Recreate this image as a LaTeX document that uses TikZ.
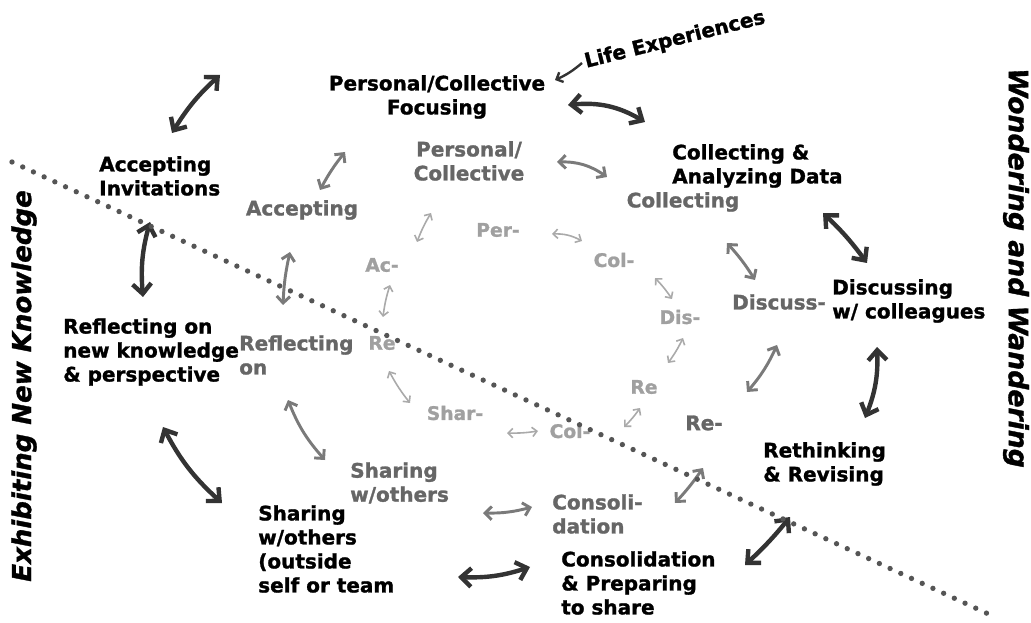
\documentclass[tikz,border=0pt]{standalone}
\usepackage{fontspec}
\setmainfont{DejaVu Sans}[BoldFeatures={FakeBold=1.3},BoldItalicFeatures={FakeBold=1.3}]
\usetikzlibrary{arrows.meta}
\definecolor{outerc}{HTML}{000000}
\definecolor{midc}{HTML}{666666}
\definecolor{innc}{HTML}{A0A0A0}
\definecolor{oarr}{HTML}{333333}
\definecolor{marr}{HTML}{7A7A7A}
\definecolor{iarr}{HTML}{AAAAAA}
\definecolor{dotc}{HTML}{555555}
\tikzset{
  lbl/.style={inner sep=0pt, font=\fontsize{15}{18}\selectfont\bfseries},
  outerlbl/.style={lbl, text=outerc},
  midlbl/.style={lbl, text=midc},
  innlbl/.style={lbl, text=innc, font=\fontsize{14}{17}\selectfont\bfseries},
  sidelbl/.style={inner sep=0pt, text=black, font=\fontsize{19.5}{22}\selectfont\bfseries\itshape},
  oarrow/.style={draw=oarr, line width=3.3pt, line cap=round,
    {Straight Barb[length=7.5pt,width=14pt]}-{Straight Barb[length=7.5pt,width=14pt]}},
  marrow/.style={draw=marr, line width=2.2pt, line cap=round,
    {Straight Barb[length=5pt,width=10pt]}-{Straight Barb[length=5pt,width=10pt]}},
  iarrow/.style={draw=iarr, line width=1.2pt, line cap=round,
    {Straight Barb[length=3.5pt,width=7pt]}-{Straight Barb[length=3.5pt,width=7pt]}},
  dotline/.style={draw=dotc, line width=4pt, line cap=round, dash pattern=on 0pt off 8.85pt}
}
\begin{document}
\begin{tikzpicture}[x=0.75pt,y=0.75pt]
\useasboundingbox (0,0) rectangle (1031,-623);

% ---- side labels
\node[sidelbl, rotate=90] (exh) at (24,-386) {Exhibiting New Knowledge};
\node[sidelbl, rotate=-90, font=\fontsize{20}{22}\selectfont\bfseries\itshape] (won) at (1016,-268) {Wondering and Wandering};

% ---- outer ring
\node[outerlbl, align=center] (focus) at (437,-97) {Personal/Collective\\Focusing};
\node[outerlbl, rotate=14] (life) at (675,-40) {Life Experiences};
\node[outerlbl, align=left, anchor=west] (collan) at (672,-166) {Collecting \&\\Analyzing Data};
\node[outerlbl, align=left, anchor=west] (discw) at (832,-301) {Discussing\\w/ colleagues};
\node[outerlbl, align=left, anchor=west] (rethink) at (763,-464) {Rethinking\\\& Revising};
\node[outerlbl, align=left, anchor=west] (consprep) at (561,-583) {Consolidation\\\& Preparing\\to share};
\node[outerlbl, align=left, anchor=west] (shareout) at (258,-549) {Sharing\\w/others\\(outside\\self or team};
\node[outerlbl, align=left, anchor=west] (reflnew) at (63,-352) {Reflecting on\\new knowledge\\\& perspective};
\node[outerlbl, align=left, anchor=west] (accinv) at (99,-176) {Accepting\\Invitations};

% ---- middle ring
\node[midlbl, align=center] (perscoll) at (469,-161) {Personal/\\Collective};
\node[midlbl] (accepting) at (302,-210) {Accepting};
\node[midlbl] (collecting) at (683,-202) {Collecting};
\node[midlbl] (discuss) at (779,-302) {Discuss-};
\node[midlbl] (rem) at (704,-423) {Re-};
\node[midlbl, align=left, anchor=west] (consoli) at (552,-514) {Consoli-\\dation};
\node[midlbl, align=left, anchor=west] (sharing) at (350,-483) {Sharing\\w/others};
\node[midlbl, align=left, anchor=west] (reflon) at (239,-355) {Reflecting\\on};

% ---- inner ring
\node[innlbl] (per) at (498,-230) {Per-};
\node[innlbl] (col) at (614,-260) {Col-};
\node[innlbl] (dis) at (680,-317) {Dis-};
\node[innlbl] (rer) at (644,-387) {Re};
\node[innlbl] (colb) at (570,-431) {Col-};
\node[innlbl] (shar) at (455,-413) {Shar-};
\node[innlbl] (rel) at (382,-343) {Re};
\node[innlbl] (ac) at (382,-265) {Ac-};

% ---- arrow end points
\coordinate (o1a) at (172,-133); \coordinate (o1b) at (220,-75);
\coordinate (o2a) at (568,-105); \coordinate (o2b) at (645,-122);
\coordinate (o3a) at (823,-213); \coordinate (o3b) at (867,-263);
\coordinate (o4a) at (877,-347); \coordinate (o4b) at (865,-418);
\coordinate (o5a) at (790,-517); \coordinate (o5b) at (745,-565);
\coordinate (o6a) at (530,-567); \coordinate (o6b) at (458,-577);
\coordinate (o7a) at (222,-503); \coordinate (o7b) at (163,-427);
\coordinate (o8a) at (143,-297); \coordinate (o8b) at (150,-222);

\coordinate (m1a) at (320,-190); \coordinate (m1b) at (345,-152);
\coordinate (m2a) at (557,-162); \coordinate (m2b) at (607,-177);
\coordinate (m3a) at (727,-243); \coordinate (m3b) at (755,-280);
\coordinate (m4a) at (777,-345); \coordinate (m4b) at (747,-392);
\coordinate (m5a) at (703,-468); \coordinate (m5b) at (675,-503);
\coordinate (m6a) at (532,-507); \coordinate (m6b) at (483,-513);
\coordinate (m7a) at (325,-460); \coordinate (m7b) at (288,-400);
\coordinate (m8a) at (283,-305); \coordinate (m8b) at (290,-252);

\coordinate (i1a) at (417,-242); \coordinate (i1b) at (431,-213);
\coordinate (i2a) at (552,-234); \coordinate (i2b) at (582,-241);
\coordinate (i3a) at (655,-278); \coordinate (i3b) at (672,-299);
\coordinate (i4a) at (683,-338); \coordinate (i4b) at (668,-363);
\coordinate (i5a) at (640,-408); \coordinate (i5b) at (624,-427);
\coordinate (i6a) at (538,-431); \coordinate (i6b) at (507,-433);
\coordinate (i7a) at (410,-403); \coordinate (i7b) at (389,-371);
\coordinate (i8a) at (383,-317); \coordinate (i8b) at (390,-285);

% life experiences arrow
\coordinate (lifestart) at (582,-63);
\coordinate (lifeend) at (555,-80);
\draw[draw=oarr, line width=1.8pt, -{Straight Barb[length=4pt,width=8pt]}] (lifestart) to[bend left=8] (lifeend);

% ---- outer arrows
\draw[oarrow] (o1a) to[bend left=8] (o1b);
\draw[oarrow] (o2a) to[bend left=18] (o2b);
\draw[oarrow] (o3a) to[bend left=5] (o3b);
\draw[oarrow] (o4a) to[bend left=12] (o4b);
\draw[oarrow] (o5a) to[bend left=4] (o5b);
\draw[oarrow] (o6a) to[bend left=10] (o6b);
\draw[oarrow] (o7a) to[bend left=10] (o7b);
\draw[oarrow] (o8a) to[bend left=10] (o8b);

% ---- middle arrows
\draw[marrow] (m1a) to[bend left=5] (m1b);
\draw[marrow] (m2a) to[bend left=18] (m2b);
\draw[marrow] (m3a) to[bend left=5] (m3b);
\draw[marrow] (m4a) to[bend left=8] (m4b);
\draw[marrow] (m5a) to[bend left=4] (m5b);
\draw[marrow] (m6a) to[bend left=8] (m6b);
\draw[marrow] (m7a) to[bend left=10] (m7b);
\draw[marrow] (m8a) to[bend left=5] (m8b);

% ---- inner arrows
\draw[iarrow] (i1a) to[bend left=5] (i1b);
\draw[iarrow] (i2a) to[bend left=15] (i2b);
\draw[iarrow] (i3a) to[bend left=5] (i3b);
\draw[iarrow] (i4a) to[bend left=5] (i4b);
\draw[iarrow] (i5a) to[bend left=5] (i5b);
\draw[iarrow] (i6a) to[bend left=5] (i6b);
\draw[iarrow] (i7a) to[bend left=5] (i7b);
\draw[iarrow] (i8a) to[bend left=5] (i8b);

% ---- dotted divider
\coordinate (dl1) at (12,-162);
\coordinate (dl2) at (997,-618);
\draw[dotline] (dl1) -- (dl2);
\end{tikzpicture}
\end{document}
